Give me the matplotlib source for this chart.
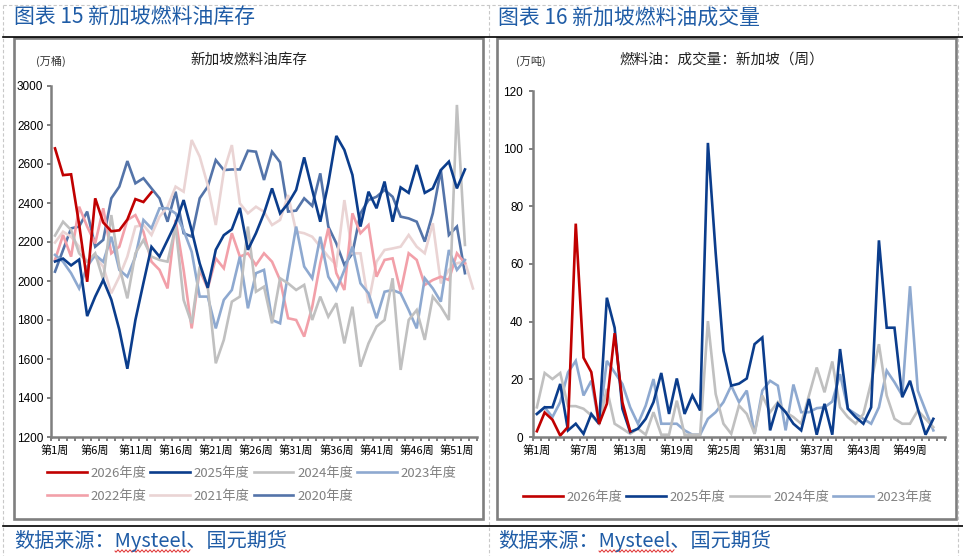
import matplotlib
matplotlib.use('Agg')
import matplotlib.pyplot as plt
import numpy as np
from matplotlib.lines import Line2D
from matplotlib.patches import Rectangle

plt.rcParams['font.family'] = ['Noto Sans CJK SC', 'DejaVu Sans']

# ---- 新加坡燃料油库存 (万桶), weekly ----
inv_2026 = [2680, 2543, 2547, 2290, 1996, 2424, 2300, 2255, 2260, 2315, 2420, 2405, 2455]
inv_2025 = [2100, 2115, 2080, 2110, 1820, 1920, 2005, 1905, 1750, 1550, 1800, 1990, 2175,
            2125, 2210, 2296, 2415, 2260, 2090, 1965, 2160, 2235, 2265, 2375, 2160, 2245,
            2347, 2475, 2347, 2398, 2467, 2634, 2467, 2304, 2501, 2744, 2672, 2544, 2279,
            2458, 2373, 2510, 2304, 2480, 2452, 2595, 2452, 2475, 2569, 2612, 2475, 2572]
inv_2024 = [2233, 2304, 2262, 2142, 2099, 2142, 2005, 2338, 2074, 1911, 2142, 2210, 2125,
            2108, 2099, 2279, 1903, 1783, 2074, 1971, 1578, 1698, 1894, 1920, 2279, 1945,
            1971, 1783, 2014, 1988, 1954, 1980, 1800, 1920, 1817, 1886, 1680, 1868, 1561,
            1680, 1766, 1800, 2014, 1544, 1800, 1851, 1698, 1920, 1868, 1800, 2903, 2185]
inv_2023 = [2134, 2099, 2040, 1962, 2074, 2134, 2099, 2227, 2057, 2022, 2125, 2313, 2270,
            2373, 2373, 2347, 2260, 2150, 1920, 1920, 1757, 1903, 1954, 2125, 1860, 2040,
            2057, 1800, 1783, 2040, 2279, 2074, 2014, 2227, 2022, 1954, 2057, 2176, 1988,
            1937, 1809, 1945, 1954, 1937, 1851, 1757, 2014, 1962, 1894, 2159, 2057, 2108]
inv_2022 = [2108, 2236, 2125, 2381, 2279, 2193, 2373, 2142, 2176, 2313, 2338, 2253, 2099,
            2057, 1962, 2313, 2057, 1757, 2057, 1962, 2116, 2065, 2245, 2125, 2142, 2082,
            2142, 2099, 2005, 1809, 1800, 1715, 1868, 2091, 2270, 2040, 1954, 2347, 2245,
            2287, 2022, 2108, 2116, 1945, 2142, 2108, 1980, 2005, 2022, 2005, 2142, 2091]
inv_2021 = [2197, 2253, 2227, 2176, 2099, 2125, 2074, 1937, 2022, 2125, 2279, 2287, 2236,
            2330, 2381, 2484, 2458, 2723, 2638, 2492, 2287, 2561, 2697, 2398, 2347, 2381,
            2355, 2287, 2313, 2441, 2253, 2245, 2227, 2176, 2125, 2082, 2415, 2142, 2142,
            1886, 2099, 2159, 2167, 2176, 2236, 2176, 2142, 2296, 1988, 2057, 2091, 2099, 1962]
inv_2020 = [2048, 2159, 2270, 2279, 2356, 2176, 2211, 2424, 2484, 2615, 2501, 2527, 2475,
            2424, 2304, 2458, 2245, 2228, 2424, 2484, 2620, 2569, 2572, 2572, 2668, 2663,
            2518, 2663, 2609, 2356, 2361, 2424, 2385, 2552, 2279, 2193, 2082, 2142, 2347,
            2415, 2432, 2467, 2432, 2330, 2321, 2304, 2202, 2347, 2569, 2236, 2279, 2040]

# ---- 燃料油：成交量：新加坡 (万吨), weekly ----
vol_2026 = [2, 8.5, 6, 0.5, 3.5, 74, 27.5, 22.5, 4.5, 11.5, 36, 12, 2]
vol_2025 = [8, 10.3, 10.3, 18.4, 2.3, 4.6, 1.1, 8, 4.6, 48.3, 37.9, 9.8, 1.7, 2.9, 6.3,
            12.1, 22.2, 8, 20.3, 8, 14.4, 9.2, 102, 63.8, 29.9, 17.8, 18.5, 20.3, 32.2,
            34.5, 2.3, 11.5, 8.6, 4.6, 2.3, 13.2, 0.8, 11.5, 0.8, 30.5, 9.8, 6.9, 4.6,
            10.3, 68.2, 37.9, 37.9, 13.8, 19.5, 9.8, 0.8, 6.3]
vol_2024 = [10.3, 22.2, 20.1, 22.2, 10.7, 10.7, 9.8, 7.5, 4.6, 16.7, 4.6, 2.9, 1.1, 2.9,
            0.8, 8.6, 0.8, 0.8, 12.6, 0.8, 0.8, 0.8, 40.2, 14.9, 4.6, 1.1, 10.9, 8.0, 1.1,
            14.4, 8.6, 12.1, 8.6, 6.9, 4.6, 14.4, 24.1, 15.5, 26.2, 10.3, 6.9, 4.6, 8.0,
            19.0, 32.2, 14.4, 6.3, 4.6, 4.6, 9.2, 6.3, 3.4]
vol_2023 = [8, 10.3, 6.9, 12.1, 22.4, 26.4, 14.4, 19.5, 4.6, 26.4, 22.4, 18.4, 10.3, 4.6,
            10.9, 20.1, 4.6, 4.6, 4.6, 2.3, 0.8, 0.8, 6.3, 8.6, 12.1, 17.8, 12.1, 16.1, 1.1,
            16.1, 19.5, 17.8, 2.3, 18.2, 8.6, 8.6, 10.0, 10.3, 12.3, 21.8, 9.8, 8.0, 6.3,
            4.6, 10.3, 23.0, 19.0, 14.4, 52.3, 16.1, 9.2, 2.3]

colors = {'2026': '#c00000', '2025': '#0b3d8c', '2024': '#c0c0c0', '2023': '#8ea9d0',
          '2022': '#f2a0a9', '2021': '#ead4d4', '2020': '#5474a9'}

W, H = 963, 556
fig = plt.figure(figsize=(W / 100, H / 100), dpi=100)


def fx(x):
    return x / W


def fy(y):
    return 1 - y / H


def line(xs, ys, **kw):
    fig.add_artist(Line2D([fx(v) for v in xs], [fy(v) for v in ys],
                          transform=fig.transFigure, **kw))


# page decorations
dash = dict(color='#c8c8c8', lw=0.8, ls=(0, (3, 2)))
line([3, 958], [5, 5], **dash)
for xv in [3, 489, 958]:
    line([xv, xv], [5, 556], **dash)
line([3, 963], [37, 37], color='black', lw=1.2)
line([3, 963], [526, 526], color='black', lw=1.2)
for x0, x1 in [(14, 483), (497, 956)]:
    fig.add_artist(Rectangle((fx(x0), fy(519)), fx(x1) - fx(x0), fy(38) - fy(519),
                             transform=fig.transFigure, fill=False,
                             edgecolor='#7f7f7f', lw=1.9))

blue_txt = '#1f5ca6'
fig.text(fx(14), fy(18), '图表 15 新加坡燃料油库存', color=blue_txt, fontsize=15, va='center')
fig.text(fx(498), fy(18), '图表 16 新加坡燃料油成交量', color=blue_txt, fontsize=15, va='center')
fig.text(fx(14), fy(541), '数据来源：Mysteel、国元期货', color=blue_txt, fontsize=14.5, va='center')
fig.text(fx(498), fy(541), '数据来源：Mysteel、国元期货', color=blue_txt, fontsize=14.5, va='center')

# red spell-check squiggle under "Mysteel"
for x0, x1 in [(115, 190), (599, 674)]:
    xs = np.arange(x0, x1 + 1, 1.0)
    ys = 551 + 1.2 * np.sin((xs - x0) * np.pi / 2)
    line(xs, ys, color='#e03030', lw=0.7)

fig.text(fx(249), fy(60), '新加坡燃料油库存', fontsize=10.5, ha='center', va='center', color='#222222')
fig.text(fx(51), fy(61), '(万桶)', fontsize=8, ha='center', va='center', color='#333333')
fig.text(fx(722), fy(60), '燃料油：成交量：新加坡（周）', fontsize=10.5, ha='center', va='center', color='#222222')
fig.text(fx(531), fy(61), '(万吨)', fontsize=8, ha='center', va='center', color='#333333')


def style_axis(ax, nweeks, label_weeks, yticks):
    for s in ['top', 'right']:
        ax.spines[s].set_visible(False)
    for s in ['left', 'bottom']:
        ax.spines[s].set_color('#7f7f7f')
        ax.spines[s].set_linewidth(1.8)
    ax.set_xlim(0.5, nweeks + 0.5)
    ax.set_ylim(yticks[0], yticks[-1])
    ax.set_yticks(yticks)
    ax.set_xticks(label_weeks)
    ax.set_xticklabels(['第%d周' % w for w in label_weeks])
    ax.set_xticks(np.arange(0.5, nweeks + 1, 1), minor=True)
    ax.tick_params(axis='x', which='major', length=0, pad=6, labelsize=8)
    ax.tick_params(axis='x', which='minor', length=3, width=1.4, color='#7f7f7f')
    ax.tick_params(axis='y', length=3, width=1.4, color='#7f7f7f', labelsize=8.5, pad=2.5)
    for lab in ax.get_yticklabels():
        lab.set_family(['Liberation Sans', 'DejaVu Sans'])
    ax.patch.set_alpha(0)


# ---- left chart ----
ax1 = fig.add_axes([fx(51), fy(437), fx(477) - fx(51), fy(86) - fy(437)])
inv = [('2020', inv_2020), ('2021', inv_2021), ('2022', inv_2022), ('2023', inv_2023),
       ('2024', inv_2024), ('2025', inv_2025), ('2026', inv_2026)]
h1 = {}
for yr, vals in inv:
    weeks = np.arange(1, len(vals) + 1)
    h1[yr], = ax1.plot(weeks, vals, color=colors[yr], lw=1.9, label=yr + '年度',
                       solid_joinstyle='miter')
style_axis(ax1, 53, list(range(1, 53, 5)), list(range(1200, 3001, 200)))

order = ['2026', '2022', '2025', '2021', '2024', '2020', '2023']
ax1.legend([h1[k] for k in order], [k + '年度' for k in order], ncol=4,
           loc='upper left', bbox_to_anchor=(fx(47), fy(467)), bbox_transform=fig.transFigure,
           frameon=False, fontsize=9.5, labelcolor='#808080', handlelength=3.0,
           handletextpad=0.3, columnspacing=0.3, labelspacing=0.75,
           borderpad=0, borderaxespad=0)

# ---- right chart ----
ax2 = fig.add_axes([fx(533), fy(437), fx(945) - fx(533), fy(91) - fy(437)])
vol = [('2023', vol_2023), ('2024', vol_2024), ('2025', vol_2025), ('2026', vol_2026)]
h2 = {}
for yr, vals in vol:
    weeks = np.arange(1, len(vals) + 1)
    h2[yr], = ax2.plot(weeks, vals, color=colors[yr], lw=1.9, label=yr + '年度',
                       solid_joinstyle='miter')
style_axis(ax2, 53, list(range(1, 53, 6)), list(range(0, 121, 20)))
ax2.tick_params(axis='y', pad=4)

order2 = ['2026', '2025', '2024', '2023']
ax2.legend([h2[k] for k in order2], [k + '年度' for k in order2], ncol=4,
           loc='upper left', bbox_to_anchor=(fx(523), fy(491)), bbox_transform=fig.transFigure,
           frameon=False, fontsize=9.5, labelcolor='#808080', handlelength=3.0,
           handletextpad=0.3, columnspacing=0.3, borderpad=0, borderaxespad=0)

fig.savefig('out.png', dpi=100)
